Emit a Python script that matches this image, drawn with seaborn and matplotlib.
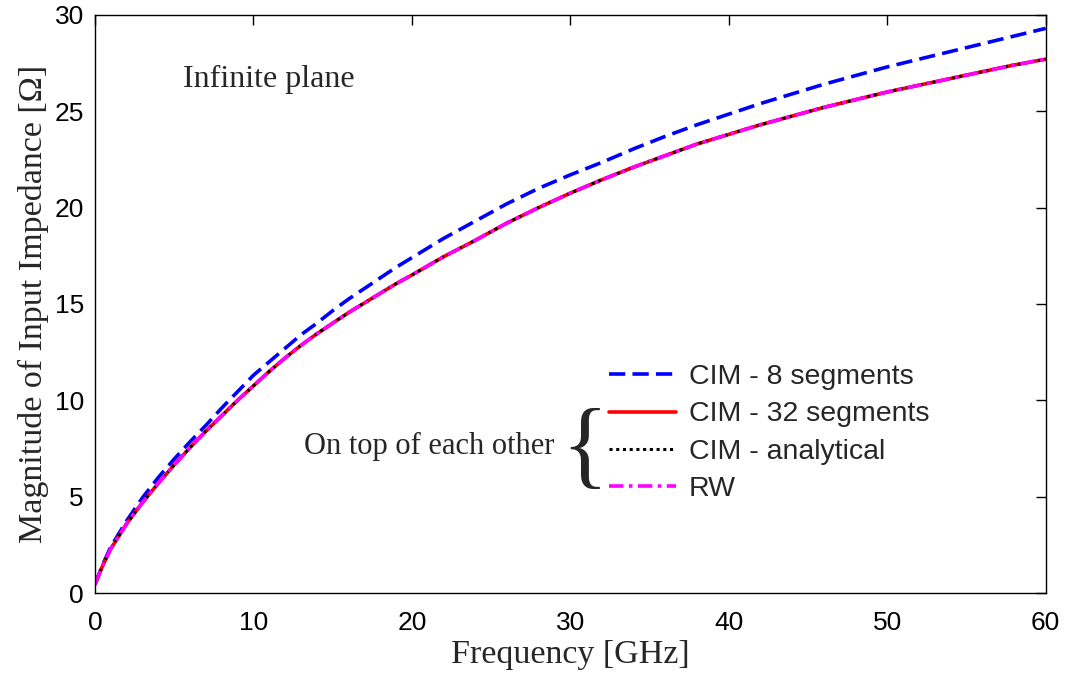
import numpy as np
import pandas as pd
import matplotlib
matplotlib.use("Agg")
import matplotlib.pyplot as plt
import seaborn as sns

# Frequency points [GHz] and magnitudes [Ohm]
freq = [0, 0.5, 1, 2, 3, 4, 5, 6, 7, 8, 9, 10, 11, 12, 13, 14, 15, 16, 17, 18, 19, 20,
        22, 24, 26, 28, 30, 32, 34, 36, 38, 40, 42, 44, 46, 48, 50, 52, 54, 56, 58, 60]

cim_8 = [0.45, 1.5, 2.4, 3.75, 4.95, 6.0, 6.95, 7.85, 8.7, 9.6, 10.45, 11.3, 12.0, 12.7,
         13.4, 14.0, 14.65, 15.25, 15.8, 16.35, 16.9, 17.4,
         18.4, 19.3, 20.2, 21.0, 21.7, 22.35, 23.05, 23.7, 24.3, 24.85, 25.4, 25.9, 26.4,
         26.85, 27.3, 27.7, 28.1, 28.5, 28.9, 29.3]

cim_32 = [0.45, 1.45, 2.3, 3.6, 4.7, 5.7, 6.65, 7.55, 8.4, 9.2, 10.0, 10.75, 11.5, 12.2,
          12.85, 13.45, 14.0, 14.55, 15.05, 15.55, 16.05, 16.5,
          17.45, 18.3, 19.2, 20.0, 20.75, 21.45, 22.1, 22.7, 23.3, 23.8, 24.3, 24.75, 25.2,
          25.6, 26.0, 26.35, 26.7, 27.05, 27.4, 27.7]

cim_analytical = [0.45, 1.45, 2.3, 3.6, 4.7, 5.7, 6.65, 7.55, 8.4, 9.2, 10.0, 10.75, 11.5, 12.2,
                  12.85, 13.45, 14.0, 14.55, 15.05, 15.55, 16.05, 16.5,
                  17.45, 18.3, 19.2, 20.0, 20.75, 21.45, 22.1, 22.7, 23.3, 23.8, 24.3, 24.75, 25.2,
                  25.6, 26.0, 26.35, 26.7, 27.05, 27.4, 27.7]

rw = [0.45, 1.45, 2.3, 3.6, 4.7, 5.7, 6.65, 7.55, 8.4, 9.2, 10.0, 10.75, 11.5, 12.2,
      12.85, 13.45, 14.0, 14.55, 15.05, 15.55, 16.05, 16.5,
      17.45, 18.3, 19.2, 20.0, 20.75, 21.45, 22.1, 22.7, 23.3, 23.8, 24.3, 24.75, 25.2,
      25.6, 26.0, 26.35, 26.7, 27.05, 27.4, 27.7]

sns.set_style("white")
plt.rcParams['font.family'] = ['Liberation Sans', 'DejaVu Sans']

fig = plt.figure(figsize=(10.67, 6.77), dpi=100)
ax = fig.add_axes([0.089, 0.124, 0.891, 0.854])

sns.lineplot(x=freq, y=cim_8, ax=ax, color='#0000ff', linewidth=2.6,
             linestyle=(0, (4.5, 2)), label='CIM - 8 segments')
sns.lineplot(x=freq, y=cim_32, ax=ax, color='#ff0000', linewidth=2.6,
             linestyle='-', label='CIM - 32 segments')
sns.lineplot(x=freq, y=cim_analytical, ax=ax, color='black', linewidth=2.2,
             linestyle=(0, (1, 1.2)), label='CIM - analytical')
sns.lineplot(x=freq, y=rw, ax=ax, color='#ff00ff', linewidth=2.6,
             linestyle=(0, (4, 1.5, 1, 1.5)), label='RW')

ax.set_xlim(0, 60)
ax.set_ylim(0, 30)
ax.set_xticks([0, 10, 20, 30, 40, 50, 60])
ax.set_yticks([0, 5, 10, 15, 20, 25, 30])
ax.tick_params(direction='in', length=7, width=1, top=True, right=True,
               labelsize=19, colors='black')
ax.tick_params(axis='x', pad=13)
ax.tick_params(axis='y', pad=8)
for s in ax.spines.values():
    s.set_color('black')
    s.set_linewidth(1)

ax.set_xlabel('Frequency [GHz]', family=['Liberation Serif'], fontsize=24.5, labelpad=3)
ax.set_ylabel('Magnitude of Input Impedance [\u03a9]', family=['Liberation Serif'],
              fontsize=24.5, labelpad=4)

ax.legend(loc='upper left', bbox_to_anchor=(0.541, 0.396), frameon=False,
          fontsize=20.5, handlelength=2.35, handletextpad=0.45, labelspacing=0.4,
          borderpad=0, borderaxespad=0)

ax.text(0.093, 0.888, 'Infinite plane', transform=ax.transAxes,
        family=['Liberation Serif'], fontsize=23, va='center', ha='left')
ax.text(0.483, 0.253, 'On top of each other', transform=ax.transAxes,
        family=['Liberation Serif'], fontsize=22, va='center', ha='right')
ax.text(0.515, 0.243, '{', transform=ax.transAxes,
        family=['Liberation Serif'], fontsize=70, va='center', ha='center')

fig.savefig('out.png', dpi=100)
